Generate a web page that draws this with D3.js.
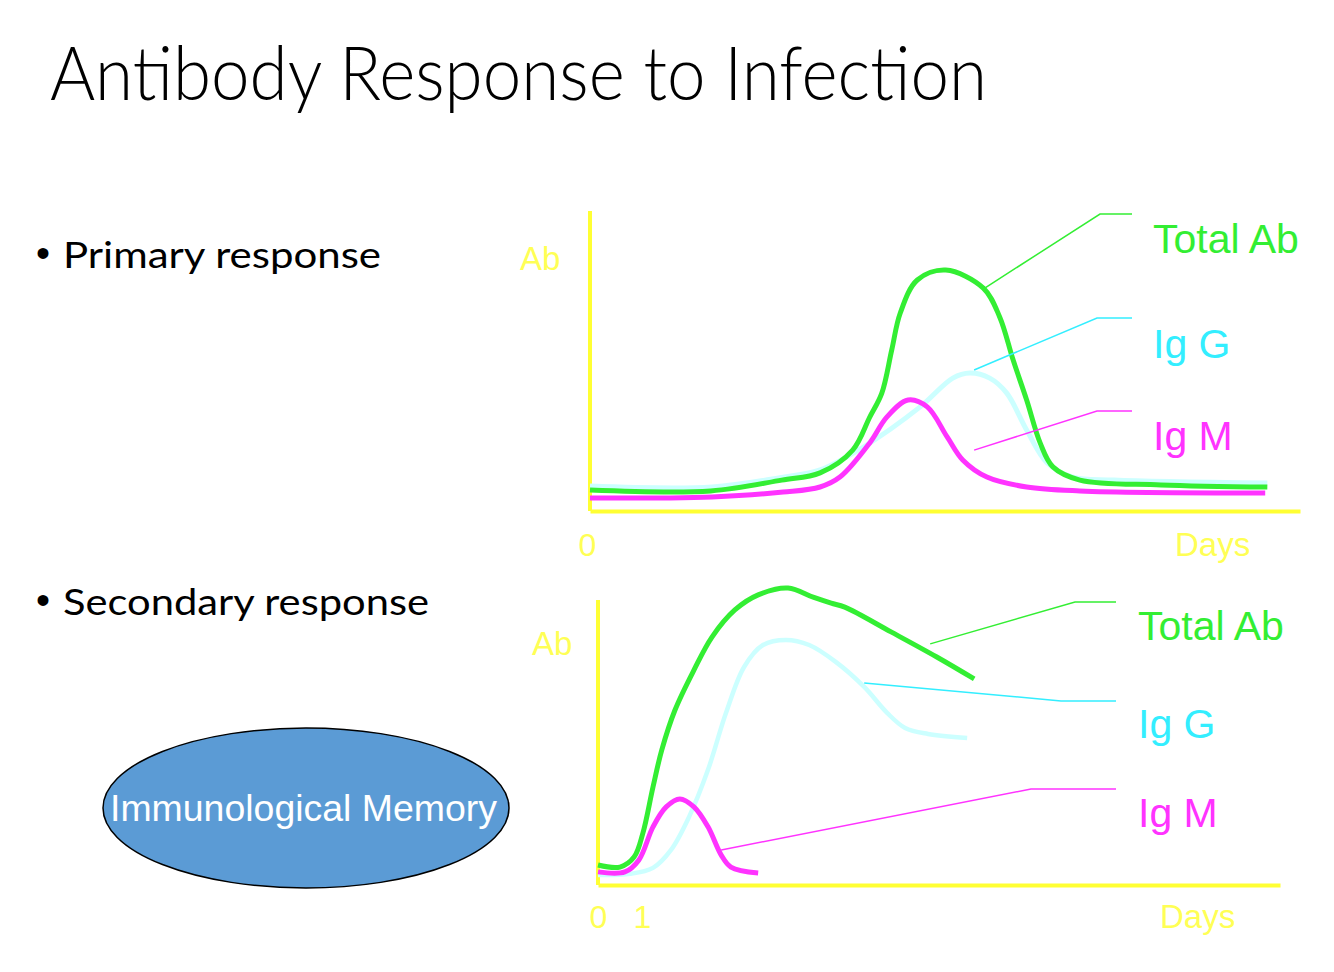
<!DOCTYPE html>
<html><head><meta charset="utf-8">
<script src="https://cdn.jsdelivr.net/npm/d3@7"></script>
<style>html,body{margin:0;padding:0;background:#fff;}svg{display:block;}</style>
</head><body>
<script>
// ---------- data ----------
const title = "Antibody Response to Infection";
const bullets = ["Primary response", "Secondary response"];
const seriesNames = ["Total Ab", "Ig G", "Ig M"];
const memoryLabel = "Immunological Memory";
const yLabel = "Ab";
const xLabel = "Days";
const primaryTicks = [0];
const secondaryTicks = [0, 1];

// Primary response (x: relative time 0-100, y: relative Ab level)
const pTotalX = [0,17,27,32.4,37,39.4,41.1,42.5,43.7,46.1,50.1,55.4,57.7,59.6,61.5,63.4,65.2,69,80.4,95.4];
const pTotalY = [7,6.7,10.3,12.7,20.3,31.3,39.3,53.7,66,77,80.3,74.3,64.7,50.3,37,22.7,14.7,10.3,8.7,8];
const pIgGX = [0,17.2,27.2,32.4,38.5,46.5,51.1,53.5,56.3,58.7,61.5,64.4,68,73.8,95.4];
const pIgGY = [8.3,8,11.3,13.7,21.3,34.7,44.3,46,44.3,39.3,27,16,11.3,10.3,9.3];
const pIgMX = [0,17.2,27.2,32.4,35.2,39.4,41.8,44.8,47.5,50.3,52.5,55.9,61.5,69,95.1];
const pIgMY = [4.3,4.7,6.3,8,11.3,22.7,31.3,37,34.7,24.7,17,11.3,8,6.7,6];

// Secondary response (x: days, y: relative Ab level)
const sTotalX = [0,0.5,0.82,1.02,1.25,1.45,1.75,2.18,2.59,3.11,3.64,4.32,4.89,5.3,5.61,6.66,7.7,8.55];
const sTotalY = [7,6.3,9.8,18.2,34.4,47.4,61.4,75.4,87,96.5,101.8,104.2,101,98.9,97.5,88.8,80,72.3];
const sIgGX = [0,0.73,1.25,1.66,2.07,2.5,2.91,3.32,3.75,4.27,4.8,5.41,6.05,6.57,6.98,7.5,8.39];
const sIgGY = [3.5,3.9,6,12.3,23.9,40.4,60.4,76.5,84.2,86,84.2,78.2,69.5,60.4,55.1,53,51.6];
const sIgMX = [0,0.61,0.93,1.25,1.55,1.86,2.18,2.5,2.8,3.02,3.64];
const sIgMY = [4.6,4.6,8.8,20.4,27.4,30.2,27.4,20.4,10.5,6.3,4.2];

// leader-line anchor points on the curves [x, y] in data units
const pAnchors = [[55.6,74.3],[54.1,47],[54.1,20.3]];
const sAnchors = [[7.55,84.6],[6.05,70.9],[2.8,12.3]];

// ---------- style ----------
const W = 1334, H = 972;
const curveColors = ["#33ee33", "#ccffff", "#ff33ff"];
const labelColors = ["#33ee33", "#33eeff", "#ff33ff"];
const yellow = "#ffff33";
const yellowText = "#ffff55";
const sans = "'Liberation Sans', Arial, sans-serif";
const bodyFont = "Lato, 'Open Sans', sans-serif";

const svg = d3.select("body").append("svg").attr("width", W).attr("height", H);
svg.append("rect").attr("width", W).attr("height", H).attr("fill", "#fff");

svg.append("text").attr("x", 50).attr("y", 100)
  .attr("font-family", bodyFont).attr("font-weight", 300).attr("font-size", 74)
  .attr("textLength", 937).attr("lengthAdjust", "spacingAndGlyphs")
  .attr("fill", "#000").text(title);

// bullets
[[36, 268, 63, 318], [36, 615, 63, 366]].forEach((b, i) => {
  svg.append("text").attr("x", b[0]).attr("y", b[1] - 1)
    .attr("font-family", sans).attr("font-size", 40).attr("fill", "#000").text("•");
  svg.append("text").attr("x", b[2]).attr("y", b[1])
    .attr("font-family", bodyFont).attr("font-size", 36)
    .attr("textLength", b[3]).attr("lengthAdjust", "spacingAndGlyphs")
    .attr("fill", "#000").text(bullets[i]);
});

// memory ellipse
svg.append("ellipse").attr("cx", 306).attr("cy", 808).attr("rx", 203).attr("ry", 80)
  .attr("fill", "#5b9bd5").attr("stroke", "#000").attr("stroke-width", 1.5);
svg.append("text").attr("x", 110).attr("y", 821)
  .attr("font-family", sans).attr("font-size", 36)
  .attr("textLength", 387).attr("lengthAdjust", "spacingAndGlyphs")
  .attr("fill", "#fff").text(memoryLabel);

function panel(cfg) {
  const x = d3.scaleLinear().domain(cfg.xDomain).range(cfg.xRange);
  const y = d3.scaleLinear().domain(cfg.yDomain).range(cfg.yRange);
  const g = svg.append("g");

  const xAxis = d3.axisBottom(x).tickValues(cfg.ticks).tickSize(0).tickSizeOuter(0).tickPadding(0).tickFormat(d3.format("d"));
  const xa = g.append("g").attr("transform", `translate(0,${cfg.yRange[0]})`).call(xAxis);
  xa.select(".domain").attr("stroke", yellow).attr("stroke-width", 4);
  xa.selectAll("text").attr("font-family", sans).attr("font-size", 32).attr("fill", yellowText)
    .attr("y", 0).attr("dy", 0).attr("transform", `translate(${cfg.tickDx},${cfg.tickBase - cfg.yRange[0]})`);

  const yAxis = d3.axisLeft(y).tickValues([]).tickSize(0).tickSizeOuter(0);
  const ya = g.append("g").attr("transform", `translate(${cfg.xRange[0]},0)`).call(yAxis);
  ya.select(".domain").attr("stroke", yellow).attr("stroke-width", 4)
    .attr("d", `M0,${cfg.yRange[0]}V${cfg.yTop}`);

  g.append("text").attr("x", cfg.abPos[0]).attr("y", cfg.abPos[1])
    .attr("font-family", sans).attr("font-size", 33).attr("fill", yellowText).text(yLabel);
  g.append("text").attr("x", cfg.daysPos[0]).attr("y", cfg.daysPos[1])
    .attr("font-family", sans).attr("font-size", 33).attr("fill", yellowText).text(xLabel);

  const line = d3.line().x(d => x(d[0])).y(d => y(d[1])).curve(d3.curveCatmullRom.alpha(0.5));
  cfg.order.forEach(i => {
    const s = cfg.series[i];
    const pts = s[0].map((v, k) => [v, s[1][k]]);
    g.append("path").attr("d", line(pts)).attr("fill", "none")
      .attr("stroke", curveColors[i]).attr("stroke-width", cfg.widths[i])
      .attr("stroke-linejoin", "round").attr("stroke-linecap", "butt");
  });

  seriesNames.forEach((name, i) => {
    const a = cfg.anchors[i];
    const L = cfg.leaders[i];
    g.append("path")
      .attr("d", `M${x(a[0])},${y(a[1])}L${L[0]},${L[1]}H${L[2]}`)
      .attr("fill", "none").attr("stroke", labelColors[i]).attr("stroke-width", 1.5);
    g.append("text").attr("x", cfg.labelX).attr("y", cfg.labelY[i])
      .attr("font-family", sans).attr("font-size", 41).attr("fill", labelColors[i]).text(name);
  });
}

panel({
  xDomain: [0, 100], xRange: [590, 1300],
  yDomain: [0, 100], yRange: [511, 211], yTop: 211,
  ticks: primaryTicks, tickDx: -3, tickBase: 556,
  abPos: [520, 270], daysPos: [1175, 556],
  series: [[pTotalX, pTotalY], [pIgGX, pIgGY], [pIgMX, pIgMY]],
  order: [1, 2, 0], widths: [5, 5, 5],
  anchors: pAnchors,
  leaders: [[1100, 214, 1132], [1097, 318, 1132], [1097, 411, 1132]],
  labelX: 1153, labelY: [253, 358, 450]
});

panel({
  xDomain: [0, 15.5], xRange: [598, 1280],
  yDomain: [0, 100], yRange: [885, 600], yTop: 600,
  ticks: secondaryTicks, tickDx: 0, tickBase: 928,
  abPos: [532, 655], daysPos: [1160, 928],
  series: [[sTotalX, sTotalY], [sIgGX, sIgGY], [sIgMX, sIgMY]],
  order: [1, 0, 2], widths: [5, 4.5, 5],
  anchors: sAnchors,
  leaders: [[1075, 602, 1116], [1061, 701, 1116], [1031, 789, 1116]],
  labelX: 1138, labelY: [640, 738, 827]
});
</script>
</body></html>
